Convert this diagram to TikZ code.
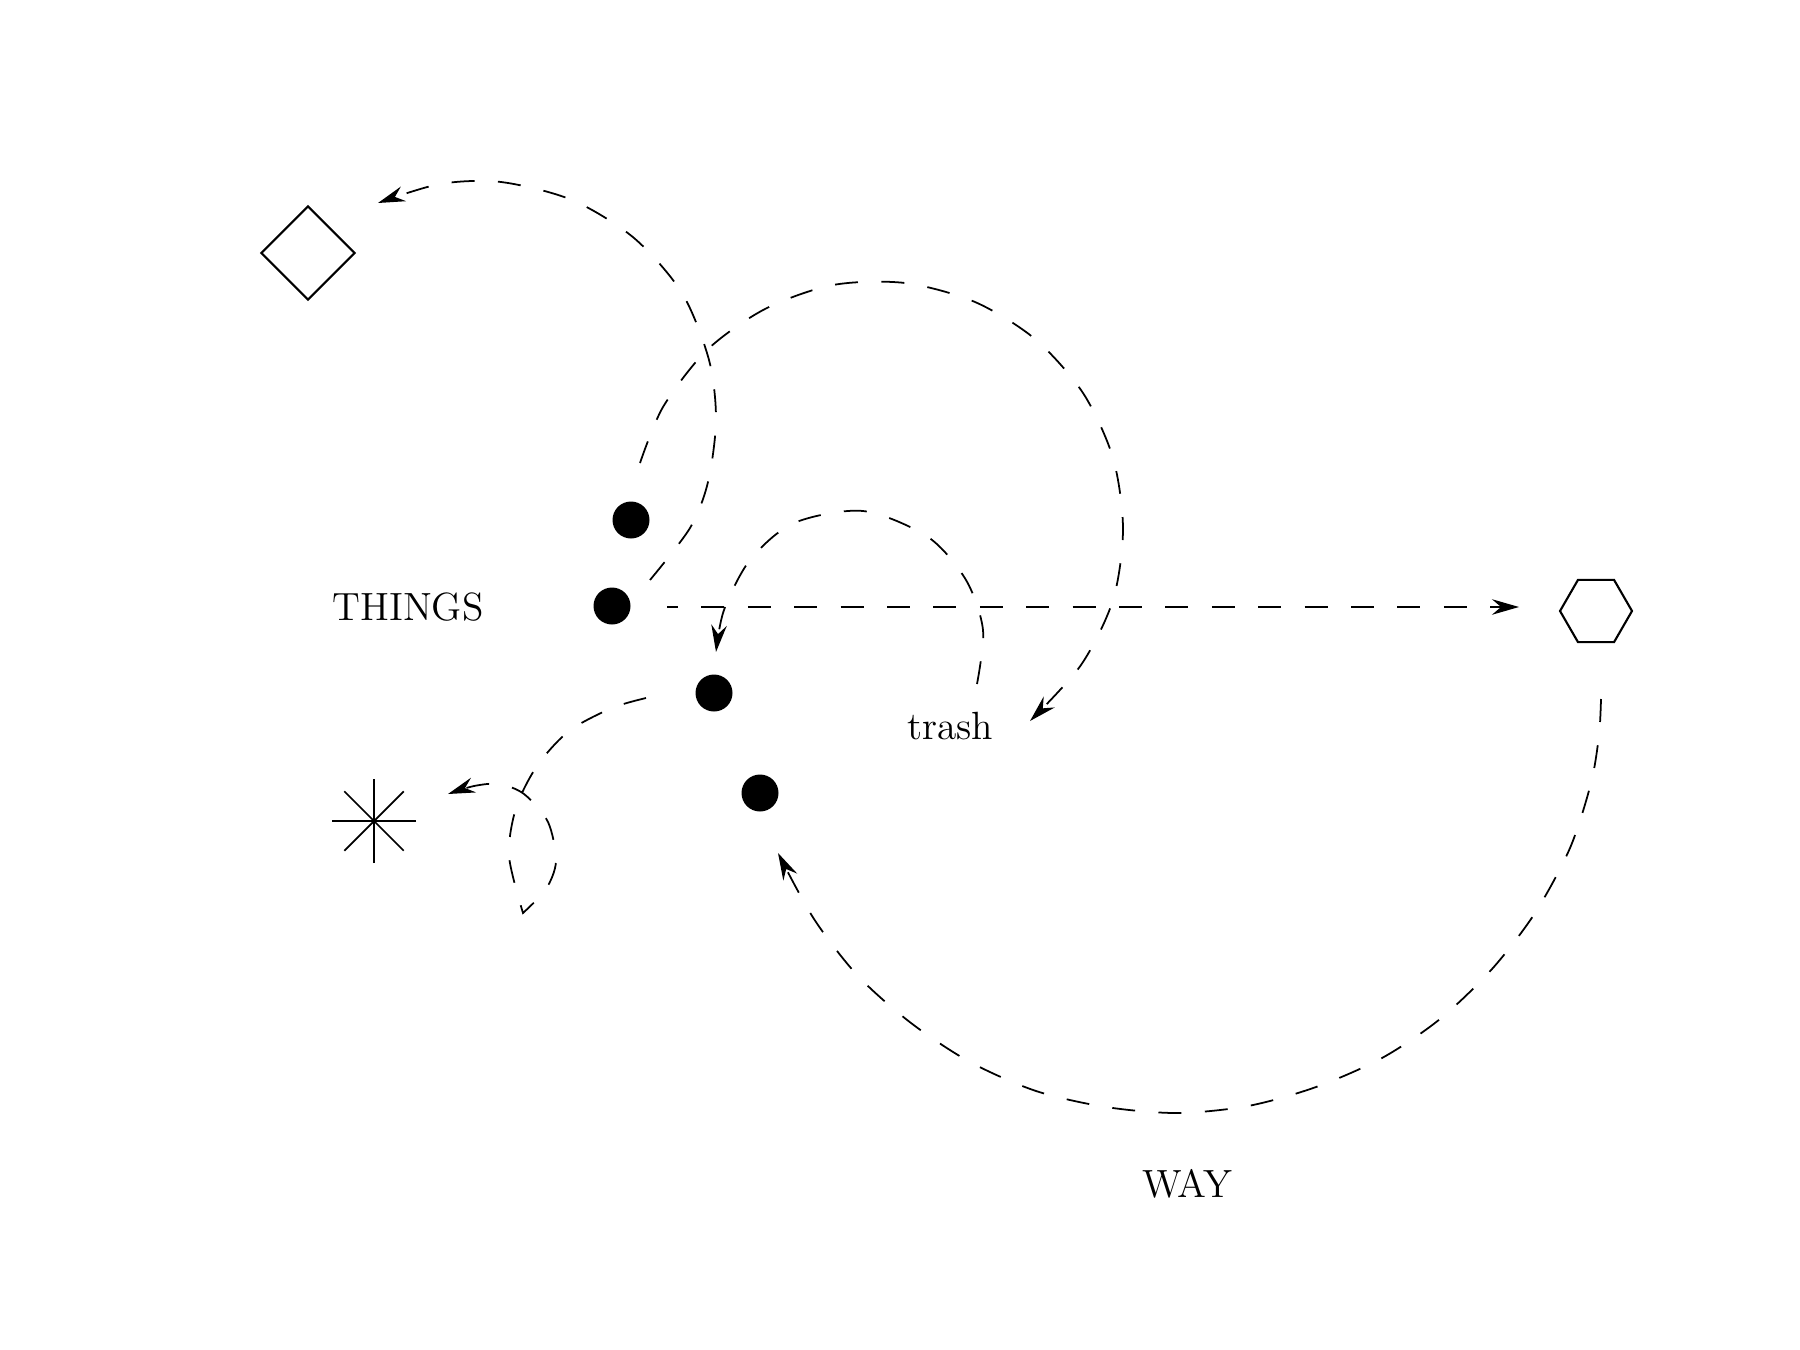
\documentclass[tikz,border=0pt]{standalone}
\usetikzlibrary{arrows.meta,shapes.geometric}
\begin{document}
\begin{tikzpicture}[x=0.1mm,y=-0.1mm,
  blob/.style={circle,fill=black,inner sep=0pt,minimum size=3.7mm},
  flow/.style={line width=0.5pt,dash pattern=on 2.3mm off 2.34mm,
    -{Stealth[length=2.7mm,width=1.55mm,inset=0.9mm]}},
  outline/.style={draw,line width=0.6pt,inner sep=0pt},
  lbl/.style={font=\fontsize{11.2}{13}\selectfont,inner sep=0pt}]
\useasboundingbox (0,0) rectangle (1800,1350);

% dots
\node[blob] (dot1) at (631,520) {};
\node[blob] (dot2) at (612,606) {};
\node[blob] (dot3) at (714,693) {};
\node[blob] (dot4) at (760,793) {};

% shapes
\node[outline,diamond,minimum width=9.4mm,minimum height=9.4mm] (dia) at (308,253) {};
\node[outline,regular polygon,regular polygon sides=6,minimum size=7.2mm] (hex) at (1596,611) {};
\coordinate (star) at (374,821);
\foreach \a in {0,45,90,135}
  \draw[line width=0.5pt] (star) ++(\a:42) -- ++(\a+180:84);

% labels
\node[lbl] (things) at (408,607) {THINGS};
\node[lbl] (trash) at (950,726) {trash};
\node[lbl] (way) at (1187,1184) {WAY};

% connector end points
\coordinate (a0) at (650,580);
\coordinate (a1) at (378,203);
\coordinate (b0) at (640,463);
\coordinate (b1) at (1030,721);
\coordinate (c0) at (977,684);
\coordinate (c1) at (716,652);
\coordinate (d0) at (646,698);
\coordinate (dk) at (523,913);
\coordinate (d1) at (448,794);
\coordinate (e0) at (1601,699);
\coordinate (e1) at (778,853);
\coordinate (h0) at (667,607);
\coordinate (h1) at (1519,607);

% dot2 -> diamond
\draw[flow] plot[smooth] coordinates {(a0) (690,528) (708,482) (716,420) (709,360)
  (682,293) (634,238) (572,200) (501,182) (440,184) (a1)};
% dot1 -> big loop -> trash
\draw[flow] plot[smooth] coordinates {(b0) (663,407) (707,350) (765,309) (833,285)
  (905,283) (975,302) (1035,339) (1083,393) (1113,458) (1123,529) (1113,600)
  (1081,665) (b1)};
% trash -> dot3
\draw[flow] plot[smooth] coordinates {(c0) (983,630) (966,580) (928,537) (863,511)
  (794,523) (750,560) (724,610) (c1)};
% dot3 -> loop -> star
\draw[flow] plot[smooth] coordinates {(d0) (612,708) (569,731) (537,766) (516,808)
  (509,856) (dk)}
  -- plot[smooth] coordinates {(dk) (546,889) (556,861) (548,822) (524,794)
  (499,784) (474,786) (d1)};
% dot2 -> hexagon
\draw[flow,dash phase=1.2mm] (h0) -- (h1);
% hexagon -> way -> dot4
\draw[flow] plot[smooth] coordinates {(e0) (1599,735) (1591,783) (1570,848)
  (1535,913) (1492,969) (1440,1019) (1382,1058) (1316,1087) (1248,1106)
  (1177,1113) (1106,1107) (1036,1091) (970,1062) (911,1023) (858,976)
  (814,919) (e1)};
\end{tikzpicture}
\end{document}
